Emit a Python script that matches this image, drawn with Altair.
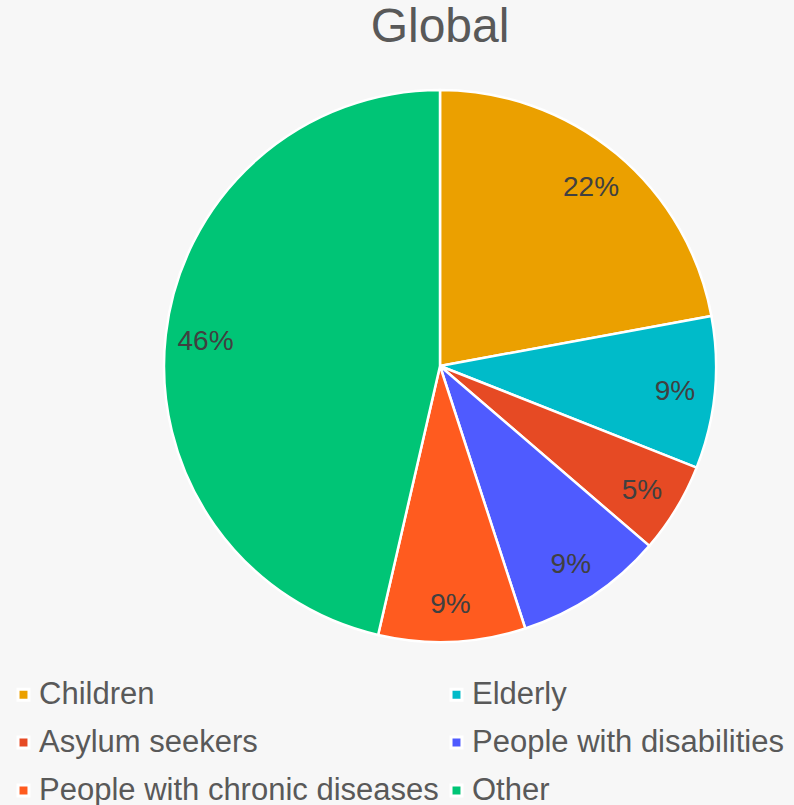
import altair as alt
import pandas as pd

categories = ["Children", "Elderly", "Asylum seekers", "People with disabilities",
              "People with chronic diseases", "Other"]
values = [22.1, 8.9, 5.3, 8.7, 8.6, 46.4]
colors = ["#EBA000", "#00BBC9", "#E64A24", "#4F5BFF", "#FF5B1F", "#00C576"]

df = pd.DataFrame({"category": categories, "value": values, "idx": list(range(len(categories)))})

CX, CY = 440, 366
R = 276

base = alt.Chart(df).transform_joinaggregate(
    total="sum(value)"
).transform_calculate(
    pct="format(datum.value / datum.total, '.0%')"
).encode(
    theta=alt.Theta("value:Q", stack=True),
    order=alt.Order("idx:Q"),
)

arcs = base.mark_arc(outerRadius=R, stroke="white", strokeWidth=2.5).encode(
    x=alt.value(CX), y=alt.value(CY),
    color=alt.Color(
        "category:N",
        scale=alt.Scale(domain=categories, range=colors),
        sort=categories,
        legend=alt.Legend(
            title=None, orient="none", legendX=8, legendY=679, columns=2,
            direction="horizontal",
            symbolType="square", symbolSize=120, symbolStrokeColor="white",
            symbolStrokeWidth=3, symbolOpacity=1,
            labelFont="Liberation Sans", labelFontSize=31, labelColor="#595959",
            labelLimit=0, labelOffset=0, rowPadding=16, columnPadding=2,
        ),
    ),
)

labels = base.mark_text(radius=236, dy=3, font="Liberation Sans", fontSize=28,
                        color="#404040").encode(
    x=alt.value(CX), y=alt.value(CY),
    text="pct:N",
)

title = alt.Chart(pd.DataFrame({"t": ["Global"]})).mark_text(
    font="Liberation Sans", fontSize=48, color="#595959", baseline="middle"
).encode(x=alt.value(CX), y=alt.value(28), text="t:N")

chart = alt.layer(arcs, labels, title).properties(
    width=794, height=805,
    autosize=alt.AutoSizeParams(type="none"),
    padding=0,
    background="#F7F7F7",
).configure_view(stroke=None)

chart.save("out.html", embed_options={"renderer": "svg", "actions": False})
